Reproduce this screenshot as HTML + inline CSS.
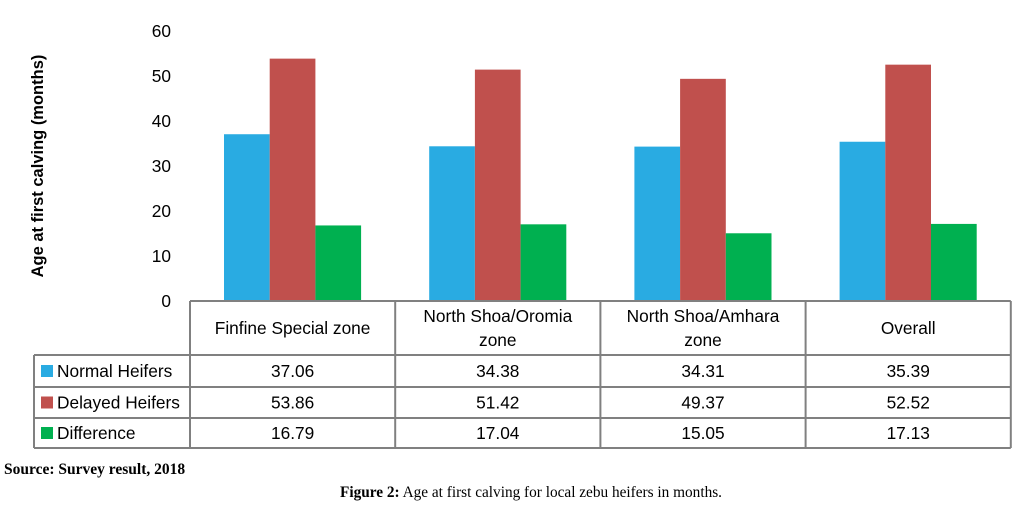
<!DOCTYPE html>
<html><head><meta charset="utf-8"><style>
body{margin:0;background:#fff;width:1018px;height:514px;overflow:hidden;font-family:"Liberation Sans",sans-serif}
svg text{font-family:"Liberation Sans",sans-serif}
</style></head><body>
<svg width="1018" height="514">
<g id="g"></g>
<text transform="translate(43,166) rotate(-90)" text-anchor="middle" font-size="16.5" font-weight="bold" fill="#000">Age at first calving (months)</text>
<text x="4" y="474" font-weight="bold" font-size="15.5" style="font-family:'Liberation Serif',serif">Source: Survey result, 2018</text>
<text x="531" y="497" text-anchor="middle" font-size="15.3" style="font-family:'Liberation Serif',serif"><tspan font-weight="bold">Figure 2:</tspan> Age at first calving for local zebu heifers in months.</text>
</svg>
<script>
const categories=[["Finfine Special zone"],["North Shoa/Oromia","zone"],["North Shoa/Amhara","zone"],["Overall"]];
const seriesNames=["Normal Heifers","Delayed Heifers","Difference"];
const normal=[37.06,34.38,34.31,35.39];
const delayed=[53.86,51.42,49.37,52.52];
const diff=[16.79,17.04,15.05,17.13];
const labelsNormal=["37.06","34.38","34.31","35.39"];
const labelsDelayed=["53.86","51.42","49.37","52.52"];
const labelsDiff=["16.79","17.04","15.05","17.13"];
const yTicks=[0,10,20,30,40,50,60];
const colors=["#29abe2","#c0504d","#00b050"];
const NS="http://www.w3.org/2000/svg";
const g=document.getElementById('g');
const x0=190,colW=205.2,y0=301,yMax=60,yTop=31;
const y=v=>y0-(v/yMax)*(y0-yTop);
const cx=i=>x0+i*colW;
const FS=17.3;
function el(t,a,txt){const e=document.createElementNS(NS,t);for(const k in a)e.setAttribute(k,a[k]);if(txt!=null)e.textContent=txt;g.appendChild(e);return e;}
yTicks.forEach(t=>{
 const e=el('text',{x:171,y:y(t)+6,'text-anchor':'end','font-size':FS,fill:'#000'},t);
 
 
});
const series=[normal,delayed,diff];
const bw=45.7;
series.forEach((s,si)=>s.forEach((v,i)=>{
 const r=el('rect',{x:cx(i)+34+si*bw,y:y(v),width:bw,height:y0-y(v),fill:colors[si]});
 
 
}));
const st={stroke:'#808080','stroke-width':2,fill:'none'};
const rows=[301,355,387,418,448];
const right=cx(4);
el('line',Object.assign({x1:x0,y1:301,x2:right,y2:301},st));
[355,387,418,448].forEach(r=>el('line',Object.assign({x1:34,y1:r,x2:right,y2:r},st)));
for(let i=0;i<=4;i++)el('line',Object.assign({x1:cx(i),y1:301,x2:cx(i),y2:448},st));
el('line',Object.assign({x1:34,y1:355,x2:34,y2:448},st));
categories.forEach((c,i)=>{
 const mid=cx(i)+colW/2;
 const ys=c.length==1?[334]:[322,346];
 c.forEach((l,j)=>{const e=el('text',{x:mid,y:ys[j],'text-anchor':'middle','font-size':FS},l);
 
 });
});
const labs=[labelsNormal,labelsDelayed,labelsDiff];
seriesNames.forEach((n,si)=>{
 const ry=(rows[si+1]+rows[si+2])/2;
 const k=el('rect',{x:41,y:ry-6,width:12,height:12,fill:colors[si]});
 
 
 const t=el('text',{x:57,y:ry+6,'font-size':FS},n);
 
 
 labs[si].forEach((v,i)=>{const e=el('text',{x:cx(i)+colW/2,y:ry+6,'text-anchor':'middle','font-size':FS},v);
 
 });
});
</script>
</body></html>
